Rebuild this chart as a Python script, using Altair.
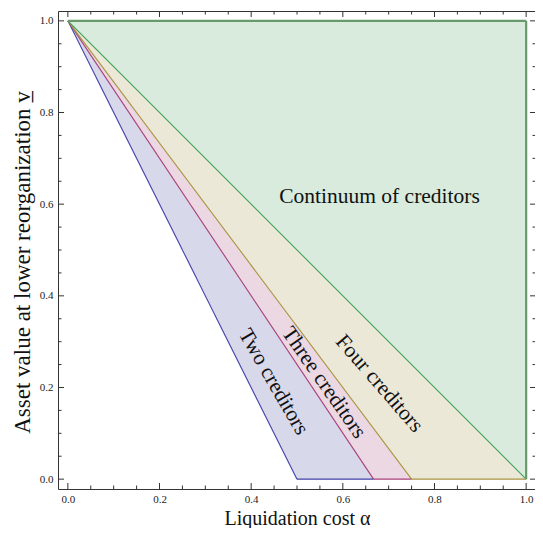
import altair as alt
import pandas as pd

# ---------------- data ----------------
regions = ["Two creditors", "Three creditors", "Four creditors", "Continuum of creditors"]
# region boundaries (alpha) at v = 0 and v = 1
alpha_left_v0 = [0.5, 0.667, 0.75, 1.0]
alpha_right_v0 = [0.667, 0.75, 1.0, 1.0]
alpha_left_v1 = [0.0, 0.0, 0.0, 0.0]
alpha_right_v1 = [0.0, 0.0, 0.0, 1.0]
v_levels = [0.0, 1.0]

line_colors = ["#4040a8", "#a8407a", "#a89440", "#3fa05a"]
fill_colors = ["#d8d8eb", "#ebd8e3", "#ebe8d8", "#d8ebdd"]

label_alpha = [0.448, 0.558, 0.679, 0.68]
label_v = [0.212, 0.21, 0.208, 0.616]
label_angle = [60, 55, 49, 0]

major_ticks = [0.0, 0.2, 0.4, 0.6, 0.8, 1.0]
minor_ticks = [0.05, 0.1, 0.15, 0.25, 0.3, 0.35, 0.45, 0.5, 0.55,
               0.65, 0.7, 0.75, 0.85, 0.9, 0.95]

# ---------------- tables ----------------
area_rows, line_rows, seg_rows = [], [], []
for i, r in enumerate(regions):
    area_rows.append({"region": r, "v": v_levels[0], "a": alpha_left_v0[i], "a2": alpha_right_v0[i]})
    area_rows.append({"region": r, "v": v_levels[1], "a": alpha_left_v1[i], "a2": alpha_right_v1[i]})
    line_rows.append({"region": r, "v": v_levels[0], "a": alpha_left_v0[i]})
    line_rows.append({"region": r, "v": v_levels[1], "a": alpha_left_v1[i]})
    if alpha_right_v0[i] > alpha_left_v0[i]:
        seg_rows.append({"region": r, "v": v_levels[0], "a": alpha_left_v0[i], "a2": alpha_right_v0[i]})
area_df = pd.DataFrame(area_rows)
line_df = pd.DataFrame(line_rows)
seg_df = pd.DataFrame(seg_rows)
edge_top = pd.DataFrame({"v": [v_levels[1]], "a": [alpha_left_v1[3]], "a2": [alpha_right_v1[3]]})
edge_right = pd.DataFrame({"a": [alpha_right_v0[3]], "v": [v_levels[0]], "v2": [v_levels[1]]})
label_df = pd.DataFrame({"region": regions, "a": label_alpha, "v": label_v, "ang": label_angle})
major_df = pd.DataFrame({"t": major_ticks})
minor_df = pd.DataFrame({"t": minor_ticks})

# ---------------- style ----------------
W, H = 478, 478
FONT = "Liberation Serif"
XT = "Liquidation cost α"
YT = "Asset value at lower reorganization v̲"
pad = 0.0215
xs = alt.Scale(domain=[-pad, 1 + pad], nice=False, zero=False)
ys = alt.Scale(domain=[-pad, 1 + pad], nice=False, zero=False)

x_axis = alt.Axis(values=major_ticks, format=".1f", ticks=False, domain=False, grid=False,
                  labelFont=FONT, labelFontSize=11, labelColor="#222", labelPadding=4,
                  title=XT, titleFont=FONT, titleFontSize=20, titleFontWeight="normal",
                  titleColor="#111", titleBaseline="alphabetic", titleY=35)
y_axis = alt.Axis(values=major_ticks, format=".1f", ticks=False, domain=False, grid=False,
                  labelFont=FONT, labelFontSize=11, labelColor="#222", labelPadding=5,
                  title=YT, titleFont=FONT, titleFontSize=23, titleFontWeight="normal",
                  titleColor="#111", titleY=251, titlePadding=5)


def X(f):
    return alt.X(f, type="quantitative", scale=xs, axis=x_axis, title=XT)


def Y(f):
    return alt.Y(f, type="quantitative", scale=ys, axis=y_axis, title=YT)


fill_scale = alt.Scale(domain=regions, range=fill_colors)
stroke_scale = alt.Scale(domain=regions, range=line_colors)

areas = alt.Chart(area_df).mark_area(orient="horizontal", opacity=1).encode(
    y=Y("v"), x=X("a"), x2="a2",
    fill=alt.Fill("region:N", scale=fill_scale, legend=None),
    detail="region:N",
)

lines = alt.Chart(line_df).mark_line(strokeWidth=1.1).encode(
    x=X("a"), y=Y("v"),
    stroke=alt.Stroke("region:N", scale=stroke_scale, legend=None),
    detail="region:N",
)

segs = alt.Chart(seg_df).mark_rule(strokeWidth=1.1).encode(
    x=X("a"), x2="a2", y=Y("v"),
    stroke=alt.Stroke("region:N", scale=stroke_scale, legend=None),
)

top_edge = alt.Chart(edge_top).mark_rule(strokeWidth=2.2, color="#689a6c").encode(
    x=X("a"), x2="a2", y=Y("v"))
right_edge = alt.Chart(edge_right).mark_rule(strokeWidth=2.2, color="#689a6c").encode(
    x=X("a"), y=Y("v"), y2="v2")

labels = alt.Chart(label_df).mark_text(font=FONT, fontSize=21.5, color="#111",
                                       align="center", baseline="middle").encode(
    x=X("a"), y=Y("v"), text="region:N",
    angle=alt.Angle("ang:Q", scale=None),
)

TK = "#333"


def xticks(df, ln):
    bot = alt.Chart(df).mark_rule(color=TK, strokeWidth=1).encode(
        x=X("t"), y=alt.value(H), y2=alt.value(H - ln))
    top = alt.Chart(df).mark_rule(color=TK, strokeWidth=1).encode(
        x=X("t"), y=alt.value(0), y2=alt.value(ln))
    return [bot, top]


def yticks(df, ln):
    left = alt.Chart(df).mark_rule(color=TK, strokeWidth=1).encode(
        y=Y("t"), x=alt.value(0), x2=alt.value(ln))
    right = alt.Chart(df).mark_rule(color=TK, strokeWidth=1).encode(
        y=Y("t"), x=alt.value(W), x2=alt.value(W - ln))
    return [left, right]


tick_layers = xticks(major_df, 6) + xticks(minor_df, 3.5) + yticks(major_df, 6) + yticks(minor_df, 3.5)

chart = alt.layer(areas, lines, segs, top_edge, right_edge, labels, *tick_layers).properties(
    width=W, height=H,
    autosize=alt.AutoSizeParams(type="none"),
    padding={"left": 50, "top": 3, "right": -1, "bottom": 39},
    background="white",
).configure_view(stroke="#333", strokeWidth=1).configure_axis(
    labelFont=FONT, titleFont=FONT
)

chart.save("out.html", embed_options={"renderer": "svg", "actions": False})
